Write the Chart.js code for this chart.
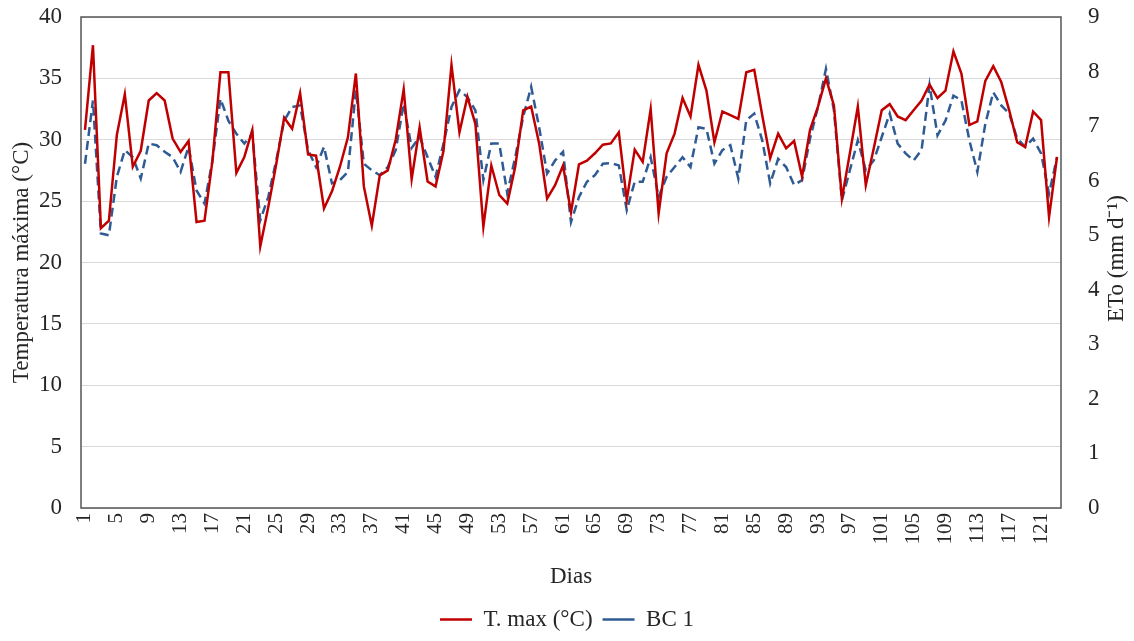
<!DOCTYPE html>
<html>
<head>
<meta charset="utf-8">
<script src="https://cdn.jsdelivr.net/npm/chart.js@4/dist/chart.umd.min.js"></script>
<style>
  html, body { margin: 0; padding: 0; background: #fff; }
  #wrap { width: 1134px; height: 641px; }
</style>
</head>
<body>
<div id="wrap"><canvas id="graph" width="1134" height="641"></canvas></div>
<script>
var serif = "'Liberation Serif', 'Times New Roman', serif";

// days 1..123
var dias = [];
for (let d = 1; d <= 123; d++) dias.push(d);

// maximum temperature, °C
var tmax = [
  30.8, 37.7, 22.8, 23.4, 30.4, 33.7, 27.8, 29.1, 33.2, 33.8,
  33.2, 30.1, 29.0, 29.9, 23.3, 23.4, 28.3, 35.5, 35.5, 27.3,
  28.6, 30.8, 21.3, 24.5, 28.0, 31.8, 30.9, 33.8, 28.8, 28.7,
  24.4, 25.8, 27.8, 30.2, 35.4, 26.2, 23.0, 27.1, 27.5, 30.0,
  34.1, 26.8, 31.0, 26.6, 26.2, 29.1, 36.1, 30.6, 33.5, 31.3,
  22.9, 27.9, 25.5, 24.8, 27.8, 32.4, 32.7, 29.7, 25.2, 26.3,
  27.9, 24.1, 28.0, 28.3, 28.9, 29.6, 29.7, 30.6, 25.1, 29.2,
  28.2, 32.5, 24.0, 28.9, 30.5, 33.4, 31.9, 36.1, 34.0, 29.8,
  32.3, 32.0, 31.7, 35.5, 35.7, 32.0, 28.5, 30.5, 29.3, 29.9,
  27.0, 30.8, 32.7, 35.0, 32.8, 25.2, 28.9, 32.7, 26.3, 29.3,
  32.4, 32.9, 31.9, 31.6, 32.4, 33.2, 34.5, 33.4, 34.0, 37.2,
  35.4, 31.2, 31.5, 34.8, 36.0, 34.7, 32.4, 29.8, 29.4, 32.3,
  31.6, 23.7, 28.6
];

// reference evapotranspiration, mm/day
var bc1 = [
  6.31, 7.47, 5.03, 5.00, 6.07, 6.56, 6.43, 6.04, 6.68, 6.65,
  6.53, 6.43, 6.16, 6.62, 5.82, 5.58, 6.37, 7.50, 7.10, 6.86,
  6.68, 6.86, 5.27, 5.70, 6.37, 7.10, 7.35, 7.38, 6.56, 6.25,
  6.62, 5.95, 6.01, 6.16, 7.66, 6.31, 6.19, 6.10, 6.25, 6.56,
  7.41, 6.60, 6.80, 6.43, 6.07, 6.68, 7.35, 7.66, 7.53, 7.29,
  6.01, 6.68, 6.68, 5.77, 6.43, 7.17, 7.72, 6.98, 6.13, 6.37,
  6.53, 5.24, 5.70, 5.98, 6.10, 6.31, 6.32, 6.28, 5.46, 5.98,
  5.98, 6.43, 5.70, 6.07, 6.25, 6.43, 6.25, 6.98, 6.95, 6.31,
  6.56, 6.65, 6.04, 7.11, 7.23, 6.74, 5.95, 6.40, 6.25, 5.92,
  6.01, 6.77, 7.35, 8.05, 7.29, 5.64, 6.19, 6.74, 6.19, 6.37,
  6.80, 7.23, 6.68, 6.50, 6.37, 6.56, 7.75, 6.83, 7.10, 7.56,
  7.47, 6.74, 6.16, 7.04, 7.62, 7.38, 7.23, 6.77, 6.62, 6.77,
  6.50, 5.76, 6.43
];

var red = '#C00000';
var blue = '#2E5B94';
var textColor = '#262626';

// frame around the plot + the right-hand axis title (reads bottom to top)
var framePlugin = {
  id: 'frame',
  afterDraw: function(chart){
    var a = chart.chartArea;
    var c = chart.ctx;
    c.save();
    c.strokeStyle = '#555555';
    c.lineWidth = 1.5;
    c.strokeRect(a.left, a.top, a.right - a.left, a.bottom - a.top);
    c.translate(1117, (a.top + a.bottom) / 2 - 4);
    c.rotate(-Math.PI / 2);
    c.fillStyle = textColor;
    c.font = '23px ' + serif;
    c.textAlign = 'center';
    c.textBaseline = 'middle';
    c.fillText('ETo (mm d\u207B\u00B9)', 0, 0);
    c.restore();
  }
};

// fixed axis sizes, no extra room requested for overhanging labels
function fixSize(w, h){
  return function(s){
    if (w) s.width = w;
    if (h) s.height = h;
    s.paddingTop = 0;
    s.paddingBottom = 0;
    s.paddingLeft = 0;
    s.paddingRight = 0;
  };
}

var ctx = document.getElementById('graph').getContext('2d');
new Chart(ctx, {
  type: 'line',
  data: {
    labels: dias,
    datasets: [
      {
        label: 'T. max (°C)',
        data: tmax,
        yAxisID: 'y',
        borderColor: red,
        backgroundColor: red,
        borderWidth: 2.5,
        pointRadius: 0,
        tension: 0
      },
      {
        label: 'BC 1',
        data: bc1,
        yAxisID: 'y1',
        borderColor: blue,
        backgroundColor: blue,
        borderWidth: 2.5,
        borderDash: [9, 5],
        pointRadius: 0,
        tension: 0
      }
    ]
  },
  options: {
    responsive: false,
    animation: false,
    layout: { padding: { top: 17, left: 0, right: 0, bottom: 0 } },
    plugins: {
      tooltip: { enabled: false },
      legend: {
        position: 'bottom',
        labels: {
          usePointStyle: true,
          pointStyle: 'line',
          pointStyleWidth: 32,
          padding: 10,
          color: textColor,
          font: { family: serif, size: 23 }
        }
      }
    },
    scales: {
      x: {
        offset: true,
        grid: { display: false, drawTicks: false },
        border: { display: false },
        afterFit: fixSize(0, 90),
        ticks: {
          autoSkip: false,
          minRotation: 90,
          maxRotation: 90,
          padding: 5,
          color: textColor,
          font: { family: serif, size: 21 },
          callback: function(v, i){ return i % 4 === 0 ? dias[i] : ''; }
        },
        title: {
          display: true,
          text: 'Dias',
          color: textColor,
          padding: { top: 0, bottom: 7 },
          font: { family: serif, size: 23 }
        }
      },
      y: {
        position: 'left',
        min: 0,
        max: 40,
        afterFit: fixSize(81, 0),
        grid: { color: '#D9D9D9', lineWidth: 1, drawTicks: false },
        border: { display: false },
        ticks: {
          stepSize: 5,
          padding: 19,
          color: textColor,
          font: { family: serif, size: 23 }
        },
        title: {
          display: true,
          text: 'Temperatura máxima (°C)',
          color: textColor,
          padding: { top: 8, bottom: 0 },
          font: { family: serif, size: 23 }
        }
      },
      y1: {
        position: 'right',
        min: 0,
        max: 9,
        afterFit: fixSize(73, 0),
        grid: { display: false, drawTicks: false },
        border: { display: false },
        ticks: {
          stepSize: 1,
          padding: 27,
          color: textColor,
          font: { family: serif, size: 23 }
        }
      }
    }
  },
  plugins: [framePlugin]
});
</script>
</body>
</html>
